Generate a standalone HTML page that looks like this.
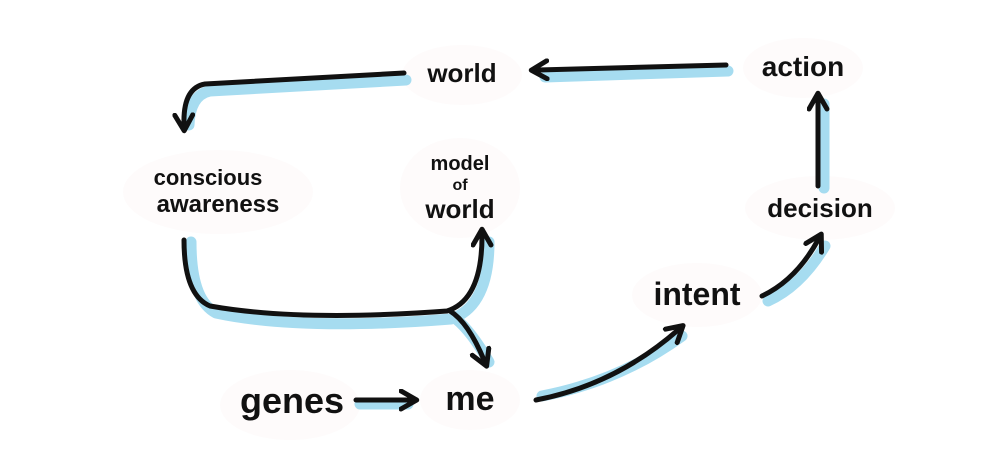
<!DOCTYPE html>
<html><head><meta charset="utf-8">
<style>
html,body{margin:0;padding:0;background:#fff;}
svg{display:block;}
text{font-family:"Liberation Sans",sans-serif;font-weight:bold;fill:#111;}
</style></head>
<body>
<svg width="1000" height="475" viewBox="0 0 1000 475" xmlns="http://www.w3.org/2000/svg">
<defs>
<marker id="ah" viewBox="0 0 10 10" refX="5" refY="5" markerWidth="4.5" markerHeight="4.5" orient="auto-start-reverse">
<path d="M1,1 L8,5 L1,9" fill="none" stroke="#111" stroke-width="2.2" stroke-linecap="round" stroke-linejoin="round"/>
</marker>
</defs>
<g fill="#fefbfb">
<ellipse cx="462" cy="75" rx="60" ry="30"/>
<ellipse cx="803" cy="68" rx="60" ry="30"/>
<ellipse cx="218" cy="192" rx="95" ry="42"/>
<ellipse cx="460" cy="188" rx="60" ry="50"/>
<ellipse cx="820" cy="208" rx="75" ry="32"/>
<ellipse cx="697" cy="295" rx="65" ry="32"/>
<ellipse cx="470" cy="400" rx="50" ry="30"/>
<ellipse cx="290" cy="405" rx="70" ry="35"/>
</g>
<g fill="none" stroke="#a6dcf0" stroke-width="11" stroke-linecap="round" stroke-linejoin="round">
<path d="M728,71 L545,77"/>
<path d="M824,188 L824,104"/>
<path d="M406,80 L210,91 Q190,95 189,125"/>
<path d="M191,242 Q191,300 216,313 Q300,331 451,319 Q489,306 489,242"/>
<path d="M456,319 Q471,331 489,362"/>
<path d="M542,396 Q620,381 682,336"/>
<path d="M768,301 Q801,286 825,246"/>
<path d="M360,404 L408,404"/>
</g>
<g fill="none" stroke="#111" stroke-width="5" stroke-linecap="round" stroke-linejoin="round">
<path d="M726,65 L538,70" marker-end="url(#ah)"/>
<path d="M818,186 L818,100" marker-end="url(#ah)"/>
<path d="M404,73 L205,84 Q183,88 184,124" marker-end="url(#ah)"/>
<path d="M184,240 Q184,295 210,306 Q300,322 447,311 Q482,300 482,236" marker-end="url(#ah)"/>
<path d="M450,311 Q468,322 484,360" marker-end="url(#ah)"/>
<path d="M536,400 Q615,385 678,330" marker-end="url(#ah)"/>
<path d="M762,296 Q796,280 818,240" marker-end="url(#ah)"/>
<path d="M356,400 L410,400" marker-end="url(#ah)"/>
</g>
<text x="462" y="82" font-size="26" text-anchor="middle">world</text>
<text x="803" y="76" font-size="28" text-anchor="middle">action</text>
<text x="208" y="185" font-size="22" text-anchor="middle">conscious</text>
<text x="218" y="212" font-size="24" text-anchor="middle">awareness</text>
<text x="460" y="170" font-size="20" text-anchor="middle">model</text>
<text x="460" y="190" font-size="16" text-anchor="middle">of</text>
<text x="460" y="218" font-size="26" text-anchor="middle">world</text>
<text x="820" y="217" font-size="26" text-anchor="middle">decision</text>
<text x="697" y="305" font-size="32" text-anchor="middle" font-weight="normal">intent</text>
<text x="470" y="410" font-size="34" text-anchor="middle">me</text>
<text x="292" y="413" font-size="36" text-anchor="middle">genes</text>
</svg>
</body></html>
